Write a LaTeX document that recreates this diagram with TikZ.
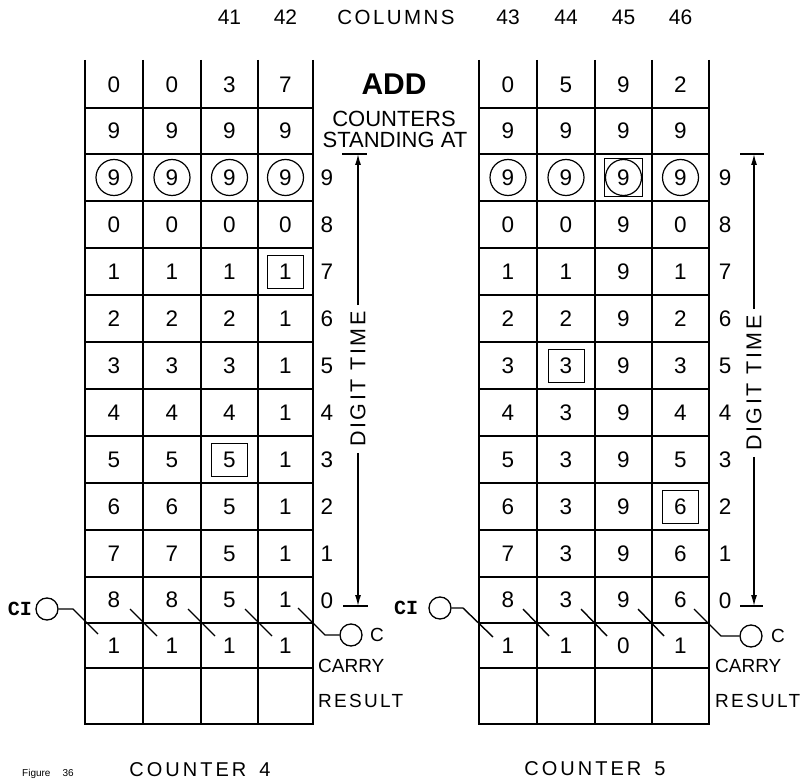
\documentclass[tikz,border=0pt]{standalone}
\usepackage{fontspec}
\setmainfont{Liberation Sans}
\newfontfamily\widefont{Liberation Sans}[LetterSpace=12]
\newfontfamily\widerfont{Liberation Sans}[LetterSpace=15]
\newfontfamily\cifont{Liberation Mono}
\usetikzlibrary{arrows.meta}
\tikzset{
  thingrid/.style={line width=1.1pt},
  thickgrid/.style={line width=2.3pt, line cap=rect},
  dig/.style={font=\fontsize{22.5}{23}\selectfont, inner sep=0pt},
  ring/.style={circle, draw, line width=1.2pt, minimum size=36pt, inner sep=0pt},
  boxd/.style={rectangle, draw, line width=0.9pt, minimum width=36pt, minimum height=33pt, inner sep=0pt},
  boxsq/.style={rectangle, draw, line width=0.9pt, minimum width=38pt, minimum height=38pt, inner sep=0pt},
  smallring/.style={circle, draw, line width=1.3pt, minimum size=22pt, inner sep=0pt},
  hdr/.style={font=\fontsize{21}{22}\selectfont, inner sep=0pt},
  lbl/.style={font=\fontsize{19}{20}\selectfont, inner sep=0pt},
  dtime/.style={font=\widefont\fontsize{21.5}{22}\selectfont, rotate=90, inner xsep=6pt, inner ysep=0pt},
  arr/.style={line width=1.3pt, -{Latex[length=11pt,width=6pt]}},
  tickln/.style={line width=1.3pt},
  carryln/.style={line width=1.4pt},
  cin/.style={font=\cifont\bfseries\fontsize{20}{20}\selectfont, inner sep=0pt},
}
\begin{document}
\begin{tikzpicture}[x=1pt,y=-1pt]
\useasboundingbox (0,0) rectangle (809,781);

% ---------- header ----------
\node[hdr] (h41) at (229.5,17) {41};
\node[hdr] (h42) at (285.5,17) {42};
\node[hdr, font=\widefont\fontsize{20.5}{22}\selectfont] (hcol) at (396,17) {COLUMNS};
\node[hdr] (h43) at (508,17) {43};
\node[hdr] (h44) at (566,17) {44};
\node[hdr] (h45) at (623.5,17) {45};
\node[hdr] (h46) at (680.5,17) {46};

% ---------- ADD box text ----------
\node[inner sep=0pt, font=\bfseries\fontsize{30}{30}\selectfont] (add) at (394,84) {ADD};
\node[inner sep=0pt, font=\fontsize{22}{22}\selectfont] (cnt) at (394,118.5) {COUNTERS};
\node[inner sep=0pt, font=\fontsize{22}{22}\selectfont] (stand) at (395,140) {STANDING AT};

% ---------- grids ----------
\foreach \gx in {85,143,201,258,313,479,537,595,652,709}
  \draw[thingrid] (\gx,60) -- (\gx,154);
\draw[thingrid] (85,108) -- (313,108);
\draw[thingrid] (479,108) -- (709,108);
\foreach \gy in {154,201,248,295,342,389,436,483,530,577,623,668,724} {
  \draw[thickgrid] (85,\gy) -- (313,\gy);
  \draw[thickgrid] (479,\gy) -- (709,\gy);
}
\foreach \gx in {85,143,201,258,313,479,537,595,652,709}
  \draw[thickgrid] (\gx,154) -- (\gx,724);

% ---------- left counter digits ----------
\foreach \r/\yy/\a/\b/\c/\d in {A/85/0/0/3/7, S/130.5/9/9/9/9, 9/177.5/9/9/9/9,
   8/224.5/0/0/0/0, 7/271.5/1/1/1/1, 6/318.5/2/2/2/1, 5/365.5/3/3/3/1,
   4/412.5/4/4/4/1, 3/459.5/5/5/5/1, 2/506.5/6/6/5/1, 1/553.5/7/7/5/1,
   0/600/8/8/5/1, c/645.5/1/1/1/1} {
  \node[dig] (L\r-1) at (114,\yy) {\a};
  \node[dig] (L\r-2) at (172,\yy) {\b};
  \node[dig] (L\r-3) at (229.5,\yy) {\c};
  \node[dig] (L\r-4) at (285.5,\yy) {\d};
}
% ---------- right counter digits ----------
\foreach \r/\yy/\a/\b/\c/\d in {A/85/0/5/9/2, S/130.5/9/9/9/9, 9/177.5/9/9/9/9,
   8/224.5/0/0/9/0, 7/271.5/1/1/9/1, 6/318.5/2/2/9/2, 5/365.5/3/3/9/3,
   4/412.5/4/3/9/4, 3/459.5/5/3/9/5, 2/506.5/6/3/9/6, 1/553.5/7/3/9/6,
   0/600/8/3/9/6, c/645.5/1/1/0/1} {
  \node[dig] (R\r-1) at (508,\yy) {\a};
  \node[dig] (R\r-2) at (566,\yy) {\b};
  \node[dig] (R\r-3) at (623.5,\yy) {\c};
  \node[dig] (R\r-4) at (680.5,\yy) {\d};
}

% ---------- circles and boxes ----------
\foreach \k in {1,2,3,4} {
  \node[ring] (Lring\k) at (L9-\k) {};
  \node[ring] (Rring\k) at (R9-\k) {};
}
\node[boxd] (Lbox7) at (L7-4) {};
\node[boxd] (Lbox3) at (L3-3) {};
\node[boxd] (Rbox5) at (R5-2) {};
\node[boxd] (Rbox2) at (R2-4) {};
\node[boxsq] (Rbox9) at (R9-3) {};

% ---------- row labels ----------
\foreach \r/\yy in {9/177.5, 8/224.5, 7/271.5, 6/318.5, 5/365.5, 4/412.5,
   3/459.5, 2/506.5, 1/553.5, 0/601} {
  \node[dig] (Llab\r) at (327,\yy) {\r};
  \node[dig] (Rlab\r) at (725,\yy) {\r};
}

% ---------- digit time arrows ----------
\node[dtime] (dtL) at (358,379) {DIGIT TIME};
\coordinate (tLa) at (342,154); \coordinate (tLb) at (367,154);
\coordinate (bLa) at (343,606); \coordinate (bLb) at (368,606);
\coordinate (tL) at (358,154); \coordinate (bL) at (358,606);
\draw[tickln] (tLa) -- (tLb);
\draw[tickln] (bLa) -- (bLb);
\draw[arr] (dtL.east) -- (tL);
\draw[arr] (dtL.west) -- (bL);

\node[dtime] (dtR) at (754,383) {DIGIT TIME};
\coordinate (tRa) at (740,154); \coordinate (tRb) at (764,154);
\coordinate (bRa) at (740,606); \coordinate (bRb) at (763,606);
\coordinate (tR) at (754,154); \coordinate (bR) at (754,606);
\draw[tickln] (tRa) -- (tRb);
\draw[tickln] (bRa) -- (bRb);
\draw[arr] (dtR.east) -- (tR);
\draw[arr] (dtR.west) -- (bR);

% ---------- carry chains, left ----------
\node[cin] (ciL) at (20,609) {CI};
\node[smallring] (ciLc) at (47,609) {};
\coordinate (ciL1) at (73,609); \coordinate (ciL2) at (98,634);
\draw[carryln] (ciLc.east) -- (ciL1) -- (ciL2);
\foreach \gx in {143,201,258}
  \draw[carryln] ({\gx-13},609) -- ({\gx+14},636);
\node[smallring] (coLc) at (351,635) {};
\coordinate (coL1) at (298,608); \coordinate (coL2) at (325,635);
\draw[carryln] (coL1) -- (coL2) -- (coLc.west);
\node[lbl] (coL) at (377,635) {C};
\node[lbl, anchor=west] (carL) at (318,666) {CARRY};
\node[lbl, anchor=west, font=\widefont\fontsize{19}{20}\selectfont] (resL) at (318,701) {RESULT};

% ---------- carry chains, right ----------
\node[cin] (ciR) at (406,608) {CI};
\node[smallring] (ciRc) at (440,608) {};
\coordinate (ciR1) at (463,608); \coordinate (ciR2) at (493,637);
\draw[carryln] (ciRc.east) -- (ciR1) -- (ciR2);
\foreach \gx in {537,595,652}
  \draw[carryln] ({\gx-14},609) -- ({\gx+12},636);
\node[smallring] (coRc) at (751,636) {};
\coordinate (coR1) at (694,609); \coordinate (coR2) at (721,636);
\draw[carryln] (coR1) -- (coR2) -- (coRc.west);
\node[lbl] (coR) at (778,636) {C};
\node[lbl, anchor=west] (carR) at (715,666) {CARRY};
\node[lbl, anchor=west, font=\widefont\fontsize{19}{20}\selectfont] (resR) at (715,701) {RESULT};

% ---------- counter titles ----------
\node[inner sep=0pt, font=\widerfont\fontsize{20}{20}\selectfont] (ctr4) at (200,770) {COUNTER\hspace{13pt}4};
\node[inner sep=0pt, font=\widerfont\fontsize{20}{20}\selectfont] (ctr5) at (595,769) {COUNTER\hspace{13pt}5};
\node[anchor=base west, inner sep=0pt, font=\fontsize{10}{11}\selectfont] (fig) at (22,776) {Figure\hspace{12pt}36};
\end{tikzpicture}
\end{document}
